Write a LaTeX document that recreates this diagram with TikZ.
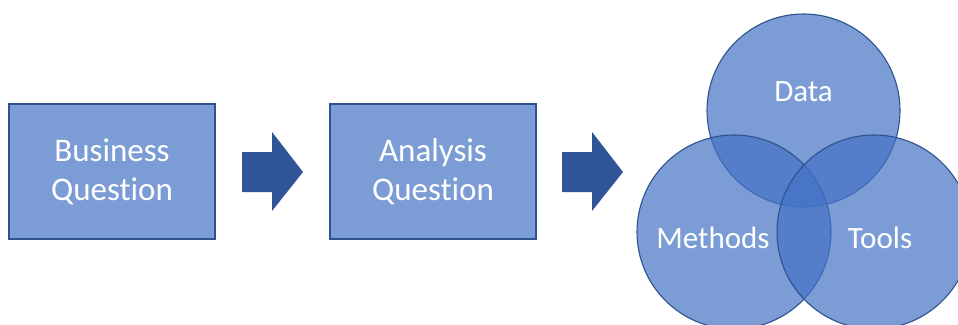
\documentclass[tikz,border=0pt]{standalone}
\usepackage{fontspec}
\setmainfont{Carlito}[Ligatures=NoCommon]
\definecolor{accent}{HTML}{4472C4}
\definecolor{edge}{HTML}{2F528F}
\definecolor{arrowblue}{HTML}{2F5597}
\begin{document}
\begin{tikzpicture}[x=1pt,y=-1pt,
  qbox/.style={draw=edge,line width=1.3pt,fill=accent,fill opacity=0.7,text opacity=1,text=white,
    minimum width=206pt,minimum height=135pt,inner sep=0pt,align=center,
    font=\fontsize{33}{39}\selectfont},
  venn/.style={draw=edge,line width=1.1pt,fill=accent,fill opacity=0.7,draw opacity=1},
  lbl/.style={text=white,font=\fontsize{31}{36}\selectfont,inner sep=0pt},
  bigarrow/.style={fill=arrowblue,draw=none}]
\useasboundingbox (0,0) rectangle (958,324);
\clip (0,0) rectangle (958,324);
\fill[white] (0,0) rectangle (958,324);
\node[qbox] (bq) at (112,171.5) {Business\\Question};
\node[qbox] (aq) at (433,171.5) {Analysis\\Question};
\fill[bigarrow] (242,152) -- (272,152) -- (272,132) -- (303,172) -- (272,211) -- (272,192) -- (242,192) -- cycle;
\fill[bigarrow] (562,152) -- (592,152) -- (592,132) -- (623,172) -- (592,211) -- (592,192) -- (562,192) -- cycle;
\draw[venn] (803.5,110.5) circle (96.5);
\draw[venn] (734,232) circle (97);
\draw[venn] (874,232) circle (97);
\node[lbl] (data) at (803.5,92) {Data};
\node[lbl] (methods) at (713,238) {Methods};
\node[lbl] (tools) at (880,238) {Tools};
\end{tikzpicture}
\end{document}
